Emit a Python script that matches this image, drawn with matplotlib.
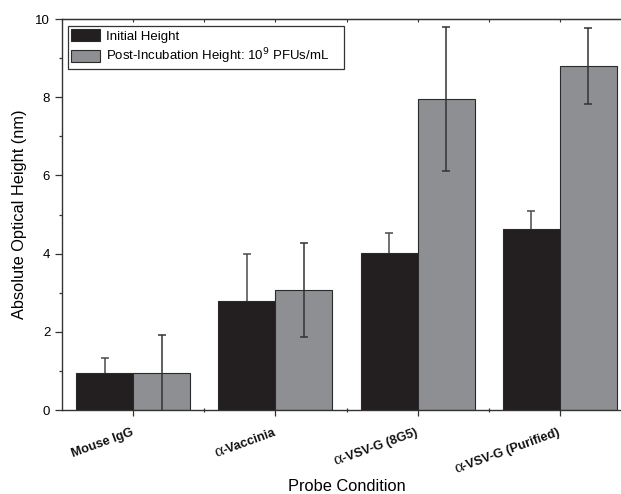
import matplotlib
matplotlib.use("Agg")
import matplotlib.pyplot as plt
import numpy as np
from matplotlib.ticker import MultipleLocator, FixedLocator
from matplotlib.font_manager import FontProperties

plt.rcParams['font.family'] = ['Liberation Sans', 'DejaVu Sans']

categories = ['Mouse IgG', 'α-Vaccinia', 'α-VSV-G (8G5)', 'α-VSV-G (Purified)']
initial = [0.94, 2.80, 4.01, 4.63]
initial_err = [0.38, 1.20, 0.51, 0.45]
post = [0.94, 3.06, 7.96, 8.79]
post_err = [0.97, 1.20, 1.84, 0.97]
series_labels = ['Initial Height', r'Post-Incubation Height: 10$^9$ PFUs/mL']

fig = plt.figure(figsize=(6.21, 4.94), dpi=100)
ax = fig.add_axes([62/621, 84/494, (631-62)/621, (410-19)/494])

x = np.arange(len(categories))
w = 0.4
ax.bar(x - w/2, initial, w, color='#231f20', edgecolor='#2a2a2a', linewidth=0.8,
       label=series_labels[0], zorder=2)
ax.errorbar(x - w/2, initial, yerr=initial_err, fmt='none', ecolor='#4a4a4a',
            elinewidth=1.1, capsize=2.8, capthick=1.1, zorder=1)
ax.bar(x + w/2, post, w, color='#8e8f92', edgecolor='#2a2a2a', linewidth=0.8,
       label=series_labels[1], zorder=2)
ax.errorbar(x + w/2, post, yerr=post_err, fmt='none', ecolor='#333333',
            elinewidth=1.1, capsize=2.8, capthick=1.1, zorder=3)

ax.set_xlim(-0.5, 3.5)
ax.set_ylim(0, 10)
ax.yaxis.set_major_locator(MultipleLocator(2))
ax.yaxis.set_minor_locator(MultipleLocator(1))
ax.set_xticks(x)
ax.set_xticklabels([''] * len(categories))
ax.xaxis.set_minor_locator(FixedLocator([0.5, 1.5, 2.5]))
ax.tick_params(axis='y', which='major', direction='out', length=5, width=0.9, labelsize=9.5, color='#333')
ax.tick_params(axis='y', which='minor', direction='out', length=2.5, width=0.9, color='#333')
ax.tick_params(axis='x', which='major', direction='out', length=4, width=0.9, color='#333')
ax.tick_params(axis='x', which='minor', direction='inout', length=3, width=0.9, color='#333')

sec = ax.secondary_xaxis('top')
sec.set_xticks([0, 1, 2, 3])
sec.set_xticklabels([''] * 4)
sec.xaxis.set_minor_locator(FixedLocator([0.5, 1.5, 2.5]))
sec.tick_params(which='both', direction='in', length=2, width=0.8, color='#333')
sec.spines['top'].set_color('#333')

for s in ['left', 'bottom', 'top', 'right']:
    ax.spines[s].set_color('#333')
    ax.spines[s].set_linewidth(1.0)

# rotated category labels: bold text, Greek alpha in a lighter serif face
rot = 20
th = np.deg2rad(rot)
renderer = fig.canvas.get_renderer()
bold_fp = FontProperties(family='Liberation Sans', weight='bold', size=9.2)
for xi, lab in zip(x, categories):
    if lab.startswith('α'):
        greek, rest = lab[0], lab[1:]
    else:
        greek, rest = '', lab
    ox, oy = 1.0, -25.0
    ax.annotate(rest, xy=(xi, 0), xycoords=ax.get_xaxis_transform(),
                xytext=(ox, oy), textcoords='offset pixels',
                ha='right', va='baseline', rotation=rot, rotation_mode='anchor',
                fontproperties=bold_fp, color='#111')
    if greek:
        wpx, hpx, dpx = renderer.get_text_width_height_descent(rest, bold_fp, ismath=False)
        gx = ox - wpx * np.cos(th)
        gy = oy - wpx * np.sin(th)
        ax.annotate(greek, xy=(xi, 0), xycoords=ax.get_xaxis_transform(),
                    xytext=(gx, gy), textcoords='offset pixels',
                    ha='right', va='baseline', rotation=rot, rotation_mode='anchor',
                    family='Liberation Serif', fontsize=12.5, color='#111')

ax.set_ylabel('Absolute Optical Height (nm)', fontsize=11.8)
ax.yaxis.set_label_coords(-0.062, 0.5)
ax.set_xlabel('Probe Condition', fontsize=11.8)
ax.xaxis.set_label_coords(0.5, -0.176)

leg = ax.legend(loc='upper left', bbox_to_anchor=(0.0105, 0.983, 0.485, 0.0),
                mode='expand', fontsize=9.5,
                frameon=True, fancybox=False, edgecolor='#333', framealpha=1,
                handlelength=2.2, handleheight=1.05, borderpad=0.25, labelspacing=0.3,
                handletextpad=0.4, borderaxespad=0.0)
leg.get_frame().set_linewidth(0.9)

fig.savefig('out.png', dpi=100)
